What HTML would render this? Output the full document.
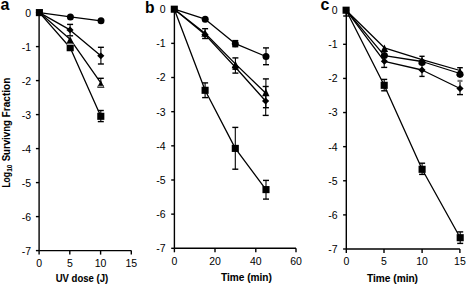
<!DOCTYPE html>
<html><head><meta charset="utf-8"><style>
html,body{margin:0;padding:0;background:#fff;width:466px;height:285px;overflow:hidden}
svg{display:block}
text{font-family:"Liberation Sans",sans-serif;fill:#000}
.t{stroke:#000;stroke-width:0.08px}
</style></head><body>
<svg width="466" height="285" viewBox="0 0 466 285">
<line x1="39.10" y1="12.60" x2="39.10" y2="250.60" stroke="#000" stroke-width="1.4"/>
<line x1="35.90" y1="12.60" x2="39.10" y2="12.60" stroke="#000" stroke-width="1.4"/>
<text x="31.00" y="16.50" text-anchor="end" font-size="10.5" font-weight="normal" >0</text>
<line x1="35.90" y1="46.60" x2="39.10" y2="46.60" stroke="#000" stroke-width="1.4"/>
<text x="31.00" y="50.50" text-anchor="end" font-size="10.5" font-weight="normal" >-1</text>
<line x1="35.90" y1="80.60" x2="39.10" y2="80.60" stroke="#000" stroke-width="1.4"/>
<text x="31.00" y="84.50" text-anchor="end" font-size="10.5" font-weight="normal" >-2</text>
<line x1="35.90" y1="114.60" x2="39.10" y2="114.60" stroke="#000" stroke-width="1.4"/>
<text x="31.00" y="118.50" text-anchor="end" font-size="10.5" font-weight="normal" >-3</text>
<line x1="35.90" y1="148.60" x2="39.10" y2="148.60" stroke="#000" stroke-width="1.4"/>
<text x="31.00" y="152.50" text-anchor="end" font-size="10.5" font-weight="normal" >-4</text>
<line x1="35.90" y1="182.60" x2="39.10" y2="182.60" stroke="#000" stroke-width="1.4"/>
<text x="31.00" y="186.50" text-anchor="end" font-size="10.5" font-weight="normal" >-5</text>
<line x1="35.90" y1="216.60" x2="39.10" y2="216.60" stroke="#000" stroke-width="1.4"/>
<text x="31.00" y="220.50" text-anchor="end" font-size="10.5" font-weight="normal" >-6</text>
<line x1="35.90" y1="250.60" x2="39.10" y2="250.60" stroke="#000" stroke-width="1.4"/>
<text x="31.00" y="254.50" text-anchor="end" font-size="10.5" font-weight="normal" >-7</text>
<line x1="39.10" y1="250.60" x2="131.30" y2="250.60" stroke="#000" stroke-width="1.4"/>
<line x1="39.10" y1="250.60" x2="39.10" y2="254.60" stroke="#000" stroke-width="1.4"/>
<text x="39.10" y="267.30" text-anchor="middle" font-size="10.5" font-weight="normal" >0</text>
<line x1="69.80" y1="250.60" x2="69.80" y2="254.60" stroke="#000" stroke-width="1.4"/>
<text x="69.80" y="267.30" text-anchor="middle" font-size="10.5" font-weight="normal" >5</text>
<line x1="100.60" y1="250.60" x2="100.60" y2="254.60" stroke="#000" stroke-width="1.4"/>
<text x="100.60" y="267.30" text-anchor="middle" font-size="10.5" font-weight="normal" >10</text>
<line x1="131.30" y1="250.60" x2="131.30" y2="254.60" stroke="#000" stroke-width="1.4"/>
<text x="131.30" y="267.30" text-anchor="middle" font-size="10.5" font-weight="normal" >15</text>
<polyline points="39.40,12.60 70.40,16.90 101.00,20.80" fill="none" stroke="#000" stroke-width="1.3" stroke-linejoin="round"/>
<polyline points="39.40,12.60 70.00,29.90 100.80,55.80" fill="none" stroke="#000" stroke-width="1.3" stroke-linejoin="round"/>
<polyline points="39.40,12.60 70.10,39.20 100.80,82.80" fill="none" stroke="#000" stroke-width="1.3" stroke-linejoin="round"/>
<polyline points="39.40,12.60 70.20,47.70 100.80,116.30" fill="none" stroke="#000" stroke-width="1.3" stroke-linejoin="round"/>
<line x1="70.10" y1="24.40" x2="70.10" y2="35.80" stroke="#000" stroke-width="1.1"/>
<line x1="67.10" y1="24.40" x2="73.10" y2="24.40" stroke="#000" stroke-width="1.4"/>
<line x1="67.10" y1="35.80" x2="73.10" y2="35.80" stroke="#000" stroke-width="1.4"/>
<line x1="100.90" y1="47.30" x2="100.90" y2="64.00" stroke="#000" stroke-width="1.1"/>
<line x1="97.90" y1="47.30" x2="103.90" y2="47.30" stroke="#000" stroke-width="1.4"/>
<line x1="97.90" y1="64.00" x2="103.90" y2="64.00" stroke="#000" stroke-width="1.4"/>
<line x1="100.80" y1="78.30" x2="100.80" y2="86.20" stroke="#000" stroke-width="1.1"/>
<line x1="97.80" y1="78.30" x2="103.80" y2="78.30" stroke="#000" stroke-width="1.4"/>
<line x1="97.80" y1="86.20" x2="103.80" y2="86.20" stroke="#000" stroke-width="1.4"/>
<line x1="100.80" y1="110.50" x2="100.80" y2="121.60" stroke="#000" stroke-width="1.1"/>
<line x1="97.80" y1="110.50" x2="103.80" y2="110.50" stroke="#000" stroke-width="1.4"/>
<line x1="97.80" y1="121.60" x2="103.80" y2="121.60" stroke="#000" stroke-width="1.4"/>
<circle cx="70.40" cy="16.90" r="3.5" fill="#000"/>
<circle cx="101.00" cy="20.80" r="3.5" fill="#000"/>
<polygon points="70.00,26.50 73.60,29.90 70.00,33.30 66.40,29.90" fill="#000"/>
<polygon points="100.80,52.40 104.40,55.80 100.80,59.20 97.20,55.80" fill="#000"/>
<polygon points="70.10,36.10 73.80,43.70 66.40,43.70" fill="#000"/>
<polygon points="100.80,80.20 104.50,87.80 97.10,87.80" fill="#000"/>
<rect x="66.65" y="44.15" width="7.1" height="7.1" fill="#000"/>
<rect x="97.25" y="112.75" width="7.1" height="7.1" fill="#000"/>
<rect x="35.85" y="9.05" width="7.1" height="7.1" fill="#000"/>
<line x1="66.60" y1="44.30" x2="73.80" y2="44.30" stroke="#fff" stroke-width="0.8"/>
<line x1="98.20" y1="86.30" x2="103.40" y2="86.30" stroke="#fff" stroke-width="0.8"/>
<line x1="174.40" y1="9.20" x2="174.40" y2="248.30" stroke="#000" stroke-width="1.4"/>
<line x1="171.20" y1="9.20" x2="174.40" y2="9.20" stroke="#000" stroke-width="1.4"/>
<text x="165.50" y="13.10" text-anchor="end" font-size="10.5" font-weight="normal" >0</text>
<line x1="171.20" y1="43.36" x2="174.40" y2="43.36" stroke="#000" stroke-width="1.4"/>
<text x="165.50" y="47.26" text-anchor="end" font-size="10.5" font-weight="normal" >-1</text>
<line x1="171.20" y1="77.51" x2="174.40" y2="77.51" stroke="#000" stroke-width="1.4"/>
<text x="165.50" y="81.41" text-anchor="end" font-size="10.5" font-weight="normal" >-2</text>
<line x1="171.20" y1="111.67" x2="174.40" y2="111.67" stroke="#000" stroke-width="1.4"/>
<text x="165.50" y="115.57" text-anchor="end" font-size="10.5" font-weight="normal" >-3</text>
<line x1="171.20" y1="145.83" x2="174.40" y2="145.83" stroke="#000" stroke-width="1.4"/>
<text x="165.50" y="149.73" text-anchor="end" font-size="10.5" font-weight="normal" >-4</text>
<line x1="171.20" y1="179.99" x2="174.40" y2="179.99" stroke="#000" stroke-width="1.4"/>
<text x="165.50" y="183.89" text-anchor="end" font-size="10.5" font-weight="normal" >-5</text>
<line x1="171.20" y1="214.14" x2="174.40" y2="214.14" stroke="#000" stroke-width="1.4"/>
<text x="165.50" y="218.04" text-anchor="end" font-size="10.5" font-weight="normal" >-6</text>
<line x1="171.20" y1="248.30" x2="174.40" y2="248.30" stroke="#000" stroke-width="1.4"/>
<text x="165.50" y="252.20" text-anchor="end" font-size="10.5" font-weight="normal" >-7</text>
<line x1="174.40" y1="248.30" x2="296.00" y2="248.30" stroke="#000" stroke-width="1.4"/>
<line x1="174.40" y1="248.30" x2="174.40" y2="252.30" stroke="#000" stroke-width="1.4"/>
<text x="174.40" y="265.00" text-anchor="middle" font-size="10.5" font-weight="normal" >0</text>
<line x1="215.00" y1="248.30" x2="215.00" y2="252.30" stroke="#000" stroke-width="1.4"/>
<text x="215.00" y="265.00" text-anchor="middle" font-size="10.5" font-weight="normal" >20</text>
<line x1="255.80" y1="248.30" x2="255.80" y2="252.30" stroke="#000" stroke-width="1.4"/>
<text x="255.80" y="265.00" text-anchor="middle" font-size="10.5" font-weight="normal" >40</text>
<line x1="296.00" y1="248.30" x2="296.00" y2="252.30" stroke="#000" stroke-width="1.4"/>
<text x="296.00" y="265.00" text-anchor="middle" font-size="10.5" font-weight="normal" >60</text>
<polyline points="174.30,9.20 205.20,19.20 235.30,43.70 266.00,56.50" fill="none" stroke="#000" stroke-width="1.3" stroke-linejoin="round"/>
<polyline points="174.30,9.20 205.00,33.30 235.40,63.90 265.80,93.30" fill="none" stroke="#000" stroke-width="1.3" stroke-linejoin="round"/>
<polyline points="174.30,9.20 205.00,34.60 235.40,67.30 265.60,101.00" fill="none" stroke="#000" stroke-width="1.3" stroke-linejoin="round"/>
<polyline points="174.30,9.20 205.10,90.30 235.30,148.40 266.00,189.60" fill="none" stroke="#000" stroke-width="1.3" stroke-linejoin="round"/>
<line x1="266.00" y1="47.90" x2="266.00" y2="64.70" stroke="#000" stroke-width="1.1"/>
<line x1="263.00" y1="47.90" x2="269.00" y2="47.90" stroke="#000" stroke-width="1.4"/>
<line x1="263.00" y1="64.70" x2="269.00" y2="64.70" stroke="#000" stroke-width="1.4"/>
<line x1="235.30" y1="40.60" x2="235.30" y2="46.70" stroke="#000" stroke-width="1.1"/>
<line x1="232.30" y1="40.60" x2="238.30" y2="40.60" stroke="#000" stroke-width="1.4"/>
<line x1="232.30" y1="46.70" x2="238.30" y2="46.70" stroke="#000" stroke-width="1.4"/>
<line x1="205.10" y1="28.70" x2="205.10" y2="38.50" stroke="#000" stroke-width="1.1"/>
<line x1="202.10" y1="28.70" x2="208.10" y2="28.70" stroke="#000" stroke-width="1.4"/>
<line x1="202.10" y1="38.50" x2="208.10" y2="38.50" stroke="#000" stroke-width="1.4"/>
<line x1="235.40" y1="57.90" x2="235.40" y2="73.10" stroke="#000" stroke-width="1.1"/>
<line x1="232.40" y1="57.90" x2="238.40" y2="57.90" stroke="#000" stroke-width="1.4"/>
<line x1="232.40" y1="73.10" x2="238.40" y2="73.10" stroke="#000" stroke-width="1.4"/>
<line x1="232.40" y1="69.20" x2="238.40" y2="69.20" stroke="#000" stroke-width="1.4"/>
<line x1="265.90" y1="78.90" x2="265.90" y2="107.70" stroke="#000" stroke-width="1.1"/>
<line x1="262.90" y1="78.90" x2="268.90" y2="78.90" stroke="#000" stroke-width="1.4"/>
<line x1="262.90" y1="107.70" x2="268.90" y2="107.70" stroke="#000" stroke-width="1.4"/>
<line x1="265.70" y1="86.50" x2="265.70" y2="115.40" stroke="#000" stroke-width="1.1"/>
<line x1="262.70" y1="86.50" x2="268.70" y2="86.50" stroke="#000" stroke-width="1.4"/>
<line x1="262.70" y1="115.40" x2="268.70" y2="115.40" stroke="#000" stroke-width="1.4"/>
<line x1="205.10" y1="82.90" x2="205.10" y2="97.60" stroke="#000" stroke-width="1.1"/>
<line x1="202.10" y1="82.90" x2="208.10" y2="82.90" stroke="#000" stroke-width="1.4"/>
<line x1="202.10" y1="97.60" x2="208.10" y2="97.60" stroke="#000" stroke-width="1.4"/>
<line x1="235.30" y1="127.40" x2="235.30" y2="169.20" stroke="#000" stroke-width="1.1"/>
<line x1="232.30" y1="127.40" x2="238.30" y2="127.40" stroke="#000" stroke-width="1.4"/>
<line x1="232.30" y1="169.20" x2="238.30" y2="169.20" stroke="#000" stroke-width="1.4"/>
<line x1="266.00" y1="180.40" x2="266.00" y2="199.10" stroke="#000" stroke-width="1.1"/>
<line x1="263.00" y1="180.40" x2="269.00" y2="180.40" stroke="#000" stroke-width="1.4"/>
<line x1="263.00" y1="199.10" x2="269.00" y2="199.10" stroke="#000" stroke-width="1.4"/>
<circle cx="205.20" cy="19.20" r="3.5" fill="#000"/>
<circle cx="235.30" cy="43.70" r="3.5" fill="#000"/>
<circle cx="266.00" cy="56.50" r="3.5" fill="#000"/>
<polygon points="205.00,29.20 208.70,36.80 201.30,36.80" fill="#000"/>
<polygon points="235.40,60.70 239.10,68.30 231.70,68.30" fill="#000"/>
<polygon points="265.80,88.60 269.50,96.20 262.10,96.20" fill="#000"/>
<polygon points="205.00,31.20 208.60,34.60 205.00,38.00 201.40,34.60" fill="#000"/>
<polygon points="235.40,63.90 239.00,67.30 235.40,70.70 231.80,67.30" fill="#000"/>
<polygon points="265.60,97.60 269.20,101.00 265.60,104.40 262.00,101.00" fill="#000"/>
<rect x="201.55" y="86.75" width="7.1" height="7.1" fill="#000"/>
<rect x="231.75" y="144.85" width="7.1" height="7.1" fill="#000"/>
<rect x="262.45" y="186.05" width="7.1" height="7.1" fill="#000"/>
<rect x="170.75" y="5.65" width="7.1" height="7.1" fill="#000"/>
<line x1="346.30" y1="10.20" x2="346.30" y2="249.00" stroke="#000" stroke-width="1.4"/>
<line x1="343.10" y1="10.20" x2="346.30" y2="10.20" stroke="#000" stroke-width="1.4"/>
<text x="337.60" y="14.10" text-anchor="end" font-size="10.5" font-weight="normal" >0</text>
<line x1="343.10" y1="44.31" x2="346.30" y2="44.31" stroke="#000" stroke-width="1.4"/>
<text x="337.60" y="48.21" text-anchor="end" font-size="10.5" font-weight="normal" >-1</text>
<line x1="343.10" y1="78.43" x2="346.30" y2="78.43" stroke="#000" stroke-width="1.4"/>
<text x="337.60" y="82.33" text-anchor="end" font-size="10.5" font-weight="normal" >-2</text>
<line x1="343.10" y1="112.54" x2="346.30" y2="112.54" stroke="#000" stroke-width="1.4"/>
<text x="337.60" y="116.44" text-anchor="end" font-size="10.5" font-weight="normal" >-3</text>
<line x1="343.10" y1="146.66" x2="346.30" y2="146.66" stroke="#000" stroke-width="1.4"/>
<text x="337.60" y="150.56" text-anchor="end" font-size="10.5" font-weight="normal" >-4</text>
<line x1="343.10" y1="180.77" x2="346.30" y2="180.77" stroke="#000" stroke-width="1.4"/>
<text x="337.60" y="184.67" text-anchor="end" font-size="10.5" font-weight="normal" >-5</text>
<line x1="343.10" y1="214.89" x2="346.30" y2="214.89" stroke="#000" stroke-width="1.4"/>
<text x="337.60" y="218.79" text-anchor="end" font-size="10.5" font-weight="normal" >-6</text>
<line x1="343.10" y1="249.00" x2="346.30" y2="249.00" stroke="#000" stroke-width="1.4"/>
<text x="337.60" y="252.90" text-anchor="end" font-size="10.5" font-weight="normal" >-7</text>
<line x1="346.30" y1="249.00" x2="459.90" y2="249.00" stroke="#000" stroke-width="1.4"/>
<line x1="346.30" y1="249.00" x2="346.30" y2="253.00" stroke="#000" stroke-width="1.4"/>
<text x="346.30" y="264.60" text-anchor="middle" font-size="10.5" font-weight="normal" >0</text>
<line x1="384.00" y1="249.00" x2="384.00" y2="253.00" stroke="#000" stroke-width="1.4"/>
<text x="384.00" y="264.60" text-anchor="middle" font-size="10.5" font-weight="normal" >5</text>
<line x1="422.10" y1="249.00" x2="422.10" y2="253.00" stroke="#000" stroke-width="1.4"/>
<text x="422.10" y="264.60" text-anchor="middle" font-size="10.5" font-weight="normal" >10</text>
<line x1="459.90" y1="249.00" x2="459.90" y2="253.00" stroke="#000" stroke-width="1.4"/>
<text x="459.90" y="264.60" text-anchor="middle" font-size="10.5" font-weight="normal" >15</text>
<polyline points="346.10,10.20 384.40,47.80 422.00,59.60 460.00,70.50" fill="none" stroke="#000" stroke-width="1.3" stroke-linejoin="round"/>
<polyline points="346.10,10.20 384.40,55.60 422.00,61.50 460.00,73.50" fill="none" stroke="#000" stroke-width="1.3" stroke-linejoin="round"/>
<polyline points="346.10,10.20 384.40,61.30 422.00,70.00 460.00,88.50" fill="none" stroke="#000" stroke-width="1.3" stroke-linejoin="round"/>
<polyline points="346.10,10.20 384.20,85.30 422.10,169.30 460.20,237.70" fill="none" stroke="#000" stroke-width="1.3" stroke-linejoin="round"/>
<line x1="346.20" y1="10.20" x2="346.20" y2="16.00" stroke="#000" stroke-width="1.1"/>
<line x1="343.20" y1="10.20" x2="349.20" y2="10.20" stroke="#000" stroke-width="1.4"/>
<line x1="343.20" y1="16.00" x2="349.20" y2="16.00" stroke="#000" stroke-width="1.4"/>
<line x1="384.20" y1="55.00" x2="384.20" y2="67.40" stroke="#000" stroke-width="1.1"/>
<line x1="381.20" y1="55.00" x2="387.20" y2="55.00" stroke="#000" stroke-width="1.4"/>
<line x1="381.20" y1="67.40" x2="387.20" y2="67.40" stroke="#000" stroke-width="1.4"/>
<line x1="422.00" y1="56.30" x2="422.00" y2="76.40" stroke="#000" stroke-width="1.1"/>
<line x1="419.40" y1="56.30" x2="424.60" y2="56.30" stroke="#000" stroke-width="1.4"/>
<line x1="419.40" y1="76.40" x2="424.60" y2="76.40" stroke="#000" stroke-width="1.4"/>
<line x1="460.00" y1="67.70" x2="460.00" y2="78.00" stroke="#000" stroke-width="1.1"/>
<line x1="457.20" y1="67.70" x2="462.80" y2="67.70" stroke="#000" stroke-width="1.4"/>
<line x1="460.00" y1="80.80" x2="460.00" y2="94.60" stroke="#000" stroke-width="1.1"/>
<line x1="457.50" y1="80.90" x2="462.50" y2="80.90" stroke="#777" stroke-width="2.2"/>
<line x1="457.00" y1="94.60" x2="463.00" y2="94.60" stroke="#000" stroke-width="1.4"/>
<line x1="384.20" y1="79.40" x2="384.20" y2="90.80" stroke="#000" stroke-width="1.1"/>
<line x1="381.20" y1="79.40" x2="387.20" y2="79.40" stroke="#000" stroke-width="1.4"/>
<line x1="381.20" y1="90.80" x2="387.20" y2="90.80" stroke="#000" stroke-width="1.4"/>
<line x1="422.10" y1="163.20" x2="422.10" y2="174.40" stroke="#000" stroke-width="1.1"/>
<line x1="419.10" y1="163.20" x2="425.10" y2="163.20" stroke="#000" stroke-width="1.4"/>
<line x1="419.10" y1="174.40" x2="425.10" y2="174.40" stroke="#000" stroke-width="1.4"/>
<line x1="460.20" y1="231.90" x2="460.20" y2="243.40" stroke="#000" stroke-width="1.1"/>
<line x1="457.20" y1="231.90" x2="463.20" y2="231.90" stroke="#000" stroke-width="1.4"/>
<line x1="457.20" y1="243.40" x2="463.20" y2="243.40" stroke="#000" stroke-width="1.4"/>
<polygon points="384.40,44.50 388.10,52.10 380.70,52.10" fill="#000"/>
<polygon points="422.00,56.70 425.70,64.30 418.30,64.30" fill="#000"/>
<polygon points="460.00,67.80 463.70,75.40 456.30,75.40" fill="#000"/>
<circle cx="384.40" cy="55.60" r="3.5" fill="#000"/>
<circle cx="422.00" cy="62.60" r="3.5" fill="#000"/>
<circle cx="460.00" cy="74.30" r="3.5" fill="#000"/>
<polygon points="384.40,57.90 388.00,61.30 384.40,64.70 380.80,61.30" fill="#000"/>
<polygon points="422.00,66.60 425.60,70.00 422.00,73.40 418.40,70.00" fill="#000"/>
<polygon points="460.00,85.10 463.60,88.50 460.00,91.90 456.40,88.50" fill="#000"/>
<rect x="380.65" y="81.75" width="7.1" height="7.1" fill="#000"/>
<rect x="418.55" y="165.75" width="7.1" height="7.1" fill="#000"/>
<rect x="456.65" y="234.15" width="7.1" height="7.1" fill="#000"/>
<rect x="342.55" y="6.65" width="7.1" height="7.1" fill="#000"/>
<text x="81.90" y="281.90" text-anchor="middle" font-size="10.2" font-weight="bold" class="t" textLength="52.5" lengthAdjust="spacingAndGlyphs">UV dose (J)</text>
<text x="246.40" y="281.10" text-anchor="middle" font-size="10.2" font-weight="bold" class="t" textLength="51" lengthAdjust="spacingAndGlyphs">Time (min)</text>
<text x="392.50" y="281.50" text-anchor="middle" font-size="10.2" font-weight="bold" class="t" textLength="51" lengthAdjust="spacingAndGlyphs">Time (min)</text>
<text x="0.60" y="9.70" text-anchor="start" font-size="16" font-weight="bold" >a</text>
<text x="144.90" y="12.50" text-anchor="start" font-size="15.6" font-weight="bold" >b</text>
<text x="320.40" y="10.00" text-anchor="start" font-size="16" font-weight="bold" >c</text>
<g transform="rotate(-90)" font-weight="bold" font-size="10.2" class="t">
<text x="-187.6" y="10.3" textLength="15.6" lengthAdjust="spacingAndGlyphs">Log</text>
<text x="-171.8" y="12.3" font-size="7.4" textLength="7.2" lengthAdjust="spacingAndGlyphs">10</text>
<text x="-161.3" y="10.3" textLength="41.2" lengthAdjust="spacingAndGlyphs">Survivng</text>
<text x="-117.4" y="10.3" textLength="39.8" lengthAdjust="spacingAndGlyphs">Fraction</text>
</g>
</svg>
</body></html>
